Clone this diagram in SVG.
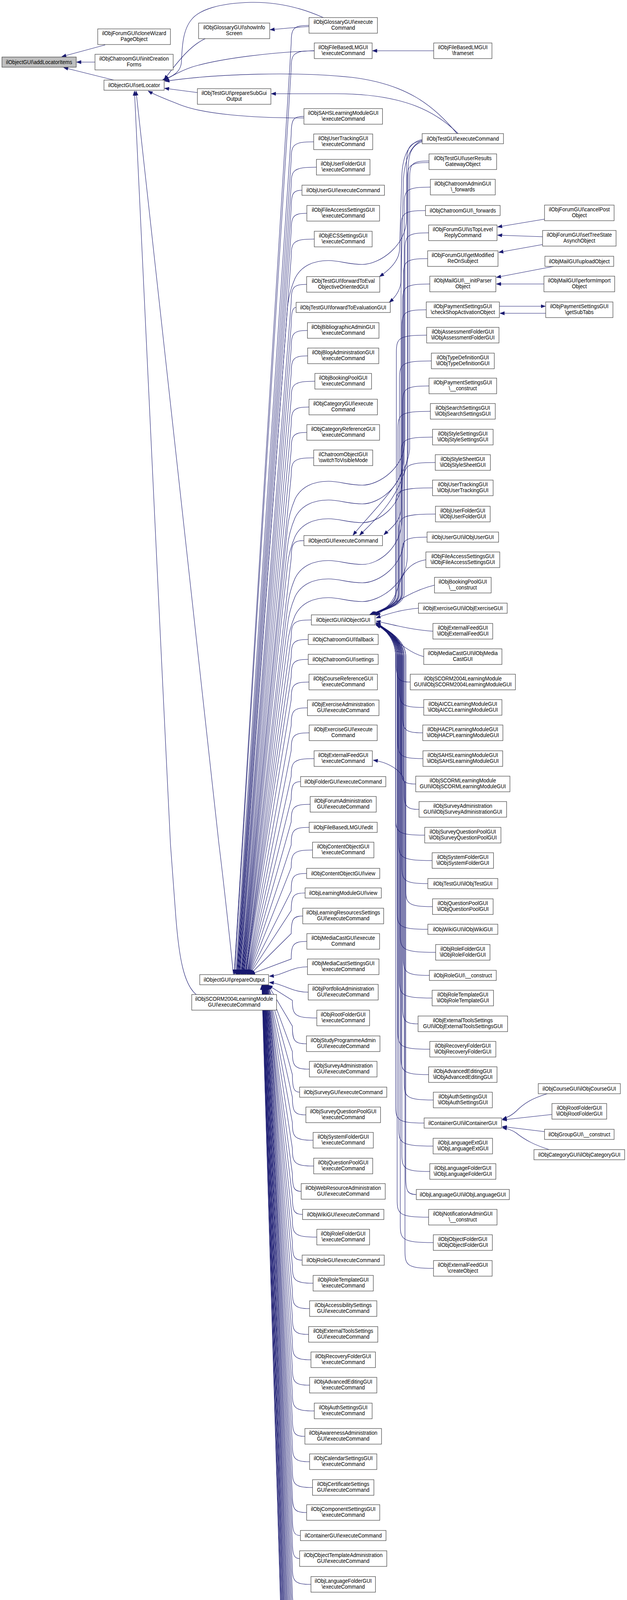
<svg xmlns="http://www.w3.org/2000/svg" width="1604" height="5192" viewBox="0 0 1604 5192">
<defs>
<marker id="ah" markerUnits="userSpaceOnUse" markerWidth="12" markerHeight="10" viewBox="0 0 12 10" refX="11.5" refY="5" orient="auto"><path d="M0,0.5 L12,5 L0,9.5 z" fill="#191970" stroke="#191970" stroke-width="0.5"/></marker>
<style>
.n rect{fill:#fff;stroke:#404040;stroke-width:1.2}
.root rect{fill:#bfbfbf}
.n text{font-family:"Liberation Sans",Arial,Helvetica,sans-serif;font-size:15px;text-anchor:middle;fill:#000;transform-box:fill-box;transform-origin:center;transform:scaleX(0.88)}
.e{fill:none;stroke:#191970;stroke-width:1.1;marker-end:url(#ah)}
</style>
</defs>
<rect width="1604" height="5192" fill="#fff"/>
<g id="edges">
<path class="e" d="M269,115 L158,145"/>
<path class="e" d="M243,159 L196,159"/>
<path class="e" d="M291,205 L163,173"/>
<path class="e" d="M525,99 C490,115 460,150 420,204"/>
<path class="e" d="M790.5,68 C750,70 720,74 691,76"/>
<path class="e" d="M827,45 C760,15 700,5 642,6 C560,8 510,25 490,50 C465,80 466,130 464,160 C462,185 440,197 414,206"/>
<path class="e" d="M804,130 C700,133 560,150 490,172 C460,182 440,195 420,205"/>
<path class="e" d="M1169,342 C1110,270 1040,215 900,198 C760,183 560,188 422,208"/>
<path class="e" d="M1172,342 C1120,290 1040,240 860,240 L694,240"/>
<path class="e" d="M505,237 L421,226"/>
<path class="e" d="M777.5,302 C640,302 520,292 460,268 C430,256 400,245 379,233"/>
<path class="e" d="M597,2495 C590,2420 570,2240 560,2160 C470,1390 390,650 348,233"/>
<path class="e" d="M502,2546 C470,2520 458,2450 450,2350 L436,2160 C405,1500 365,750 344,233"/>
<path class="e" d="M1109.5,130 L953,130"/>
<path class="e" d="M1080,357 C1045,365 1030,400 1028,450 L1022,640 C1020,670 995,692 971,708"/>
<path class="e" d="M1080,359 C1050,372 1035,410 1032,460 L1026,720 C1024,745 1010,762 996,774"/>
<path class="e" d="M1080,361 C1045,364 1040,384 1040,420 L1040,560 C1040,630 970,677 927,677 C890,677 870,667 840,667 C800,667 770,682 755,712 C745,735 738,760 735,790 L610,2494"/>
<path class="e" d="M1096.5,596 C1041,596 1036,604 1036,641 L1036,1127 C1036,1197 970,1242 927,1242 C890,1242 870,1232 840,1232 C800,1232 770,1247 755,1277 C745,1300 738,1325 735,1355 L620,2494"/>
<path class="e" d="M1094,662 C1037,662 1032,670 1032,707 L1032,1175 C1032,1245 970,1290 927,1290 C890,1290 870,1280 840,1280 C800,1280 770,1295 755,1325 C745,1348 738,1373 735,1403 L621,2494"/>
<path class="e" d="M1099.5,727 C1035,727 1030,735 1030,772 L1030,1223 C1030,1293 970,1338 927,1338 C890,1338 870,1328 840,1328 C800,1328 770,1343 755,1373 C745,1396 738,1421 735,1451 L622,2494"/>
<path class="e" d="M1090.5,793 C1033,793 1028,801 1028,838 L1028,1330 C1028,1400 970,1445 927,1445 C890,1445 870,1435 840,1435 C800,1435 770,1450 755,1480 C745,1503 738,1528 735,1558 L624,2494"/>
<path class="e" d="M1101,479 C1039,479 1034,487 1034,524 L1034,1377 C1034,1447 970,1492 927,1492 C890,1492 870,1482 840,1482 C800,1482 770,1497 755,1527 C745,1550 738,1575 735,1605 L625,2494"/>
<path class="e" d="M1097.5,416 C1047,416 1042,424 1042,461 L1042,1425 C1042,1495 970,1540 927,1540 C890,1540 870,1530 840,1530 C800,1530 770,1545 755,1575 C745,1598 738,1623 735,1653 L627,2494"/>
<path class="e" d="M1097.5,412 C1053,412 1048,420 1048,457 L1048,1150 C1040,1230 960,1300 903,1370"/>
<path class="e" d="M1080,363 C1050,372 1044,400 1044,440 L1044,1150 C1040,1260 960,1330 920,1370"/>
<path class="e" d="M1088.5,539 C1031,539 1026,547 1026,584 L1026,1300 C1026,1335 1000,1352 982,1369"/>
<path class="e" d="M1393,561 L1273,581"/>
<path class="e" d="M1388,606 L1273,602"/>
<path class="e" d="M1388,626 L1276,646"/>
<path class="e" d="M1416,682 L1270,710"/>
<path class="e" d="M1391.5,727 L1270,727"/>
<path class="e" d="M1277.5,784 L1395,784"/>
<path class="e" d="M1396,802 L1279,802"/>
<path class="e" d="M1400,2800 C1360,2812 1340,2825 1320,2845 C1310,2855 1300,2860 1285,2865"/>
<path class="e" d="M1412,2853 L1285,2867"/>
<path class="e" d="M1393,2897 L1285,2884"/>
<path class="e" d="M1405,2943 C1370,2932 1345,2920 1320,2900 C1310,2893 1298,2889 1285,2887"/>
<path class="e" d="M1108,4905 L955,4905"/>
<path class="e" d="M1109,3247 C1041,3247 1036,3239 1036,3202 L1036,2010 C1036,1975 995,1952 955,1946"/>
<path class="e" d="M1091.5,858 C1019,858 1014,866 1014,903 L1014,1520 C1014,1550 975,1562 946,1574"/>
<path class="e" d="M1103.5,924 C1027,924 1022,932 1022,969 L1022,1520 C1022,1550 977,1562 948,1574"/>
<path class="e" d="M1097.5,988 C1035,988 1030,996 1030,1033 L1030,1520 C1030,1550 979,1562 950,1574"/>
<path class="e" d="M1101,1053 C1023,1053 1018,1061 1018,1098 L1018,1520 C1018,1550 976,1562 947,1574"/>
<path class="e" d="M1106.5,1119 C1031,1119 1026,1127 1026,1164 L1026,1520 C1026,1550 978,1562 949,1574"/>
<path class="e" d="M1113.5,1184 C1039,1184 1034,1192 1034,1229 L1034,1520 C1034,1550 980,1562 952,1574"/>
<path class="e" d="M1106.5,1249 C1017,1249 1012,1257 1012,1294 L1012,1520 C1012,1550 975,1562 945,1574"/>
<path class="e" d="M1114,1316 C1025,1316 1020,1324 1020,1361 L1020,1520 C1020,1550 977,1562 948,1574"/>
<path class="e" d="M1092.5,1375 C1033,1375 1028,1383 1028,1420 L1028,1520 C1028,1550 979,1562 951,1574"/>
<path class="e" d="M1089.5,1433 C1045,1440 1028,1470 1016,1510 C1005,1545 985,1562 956,1574"/>
<path class="e" d="M1111.5,1498 C1060,1510 1010,1540 962,1576"/>
<path class="e" d="M1070.5,1557 C1030,1560 995,1570 962,1582"/>
<path class="e" d="M1107.5,1616 C1050,1612 1000,1598 962,1590"/>
<path class="e" d="M1084,1681 C1040,1670 1005,1630 962,1596"/>
<path class="e" d="M1049.5,1746 C1019,1746 1014,1738 1014,1701 L1014,1680 C1014,1640 990,1612 962,1594"/>
<path class="e" d="M1084,1811 C1027,1811 1022,1803 1022,1766 L1022,1680 C1022,1640 990,1612 962,1596"/>
<path class="e" d="M1081.5,1876 C1035,1876 1030,1868 1030,1831 L1030,1680 C1030,1640 992,1612 962,1598"/>
<path class="e" d="M1082,1942 C1023,1942 1018,1934 1018,1897 L1018,1680 C1018,1640 990,1612 962,1600"/>
<path class="e" d="M1063.5,2007 C1031,2007 1026,1999 1026,1962 L1026,1680 C1026,1640 991,1612 962,1594"/>
<path class="e" d="M1072,2072 C1039,2072 1034,2064 1034,2027 L1034,1680 C1034,1640 992,1612 962,1596"/>
<path class="e" d="M1086.5,2138 C1017,2138 1012,2130 1012,2093 L1012,1680 C1012,1640 989,1612 962,1598"/>
<path class="e" d="M1105.5,2203 C1025,2203 1020,2195 1020,2158 L1020,1680 C1020,1640 990,1612 962,1600"/>
<path class="e" d="M1094.5,2262 C1033,2262 1028,2254 1028,2217 L1028,1680 C1028,1640 991,1612 962,1594"/>
<path class="e" d="M1106.5,2321 C1043,2321 1038,2313 1038,2276 L1038,1680 C1038,1640 993,1612 962,1596"/>
<path class="e" d="M1094.5,2379 C1021,2379 1016,2371 1016,2334 L1016,1680 C1016,1640 989,1612 962,1598"/>
<path class="e" d="M1114.5,2438 C1029,2438 1024,2430 1024,2393 L1024,1680 C1024,1640 990,1612 962,1600"/>
<path class="e" d="M1098.5,2497 C1037,2497 1032,2489 1032,2452 L1032,1680 C1032,1640 992,1612 962,1594"/>
<path class="e" d="M1105.5,2555 C1027,2555 1022,2547 1022,2510 L1022,1680 C1022,1640 990,1612 962,1596"/>
<path class="e" d="M1069.5,2621 C1035,2621 1030,2613 1030,2576 L1030,1680 C1030,1640 991,1612 962,1598"/>
<path class="e" d="M1099.5,2686 C1023,2686 1018,2678 1018,2641 L1018,1680 C1018,1640 990,1612 962,1600"/>
<path class="e" d="M1096.5,2751 C1031,2751 1026,2743 1026,2706 L1026,1680 C1026,1640 991,1612 962,1594"/>
<path class="e" d="M1108.5,2816 C1039,2816 1034,2808 1034,2771 L1034,1680 C1034,1640 992,1612 962,1596"/>
<path class="e" d="M1085,2875 C1017,2875 1012,2867 1012,2830 L1012,1680 C1012,1640 989,1612 962,1598"/>
<path class="e" d="M1108,2934 C1025,2934 1020,2926 1020,2889 L1020,1680 C1020,1640 990,1612 962,1600"/>
<path class="e" d="M1099.5,2999 C1033,2999 1028,2991 1028,2954 L1028,1680 C1028,1640 991,1612 962,1594"/>
<path class="e" d="M1065,3058 C1043,3058 1038,3050 1038,3013 L1038,1680 C1038,1640 993,1612 962,1596"/>
<path class="e" d="M1096.5,3116 C1021,3116 1016,3108 1016,3071 L1016,1680 C1016,1640 989,1612 962,1598"/>
<path class="e" d="M1108.5,3181 C1029,3181 1024,3173 1024,3136 L1024,1680 C1024,1640 990,1612 962,1600"/>
<path class="e" d="M790.5,65 C750,65 745,73 745,110 L599,2494"/>
<path class="e" d="M804,130 C750,130 745,138 745,175 L600,2494"/>
<path class="e" d="M777.5,298 C750,298 745,306 745,343 L603,2494"/>
<path class="e" d="M802.5,363 C750,363 745,371 745,408 L605,2494"/>
<path class="e" d="M809.5,428 C750,428 745,436 745,473 L606,2494"/>
<path class="e" d="M772.5,487 C750,487 745,495 745,532 L607,2494"/>
<path class="e" d="M785,546 C750,546 745,554 745,591 L608,2494"/>
<path class="e" d="M804,612 C750,612 745,620 745,657 L609,2494"/>
<path class="e" d="M784.5,728 C750,728 745,736 745,773 L611,2494"/>
<path class="e" d="M757.5,787 C750,787 745,795 745,832 L612,2494"/>
<path class="e" d="M786.5,846 C750,846 745,854 745,891 L613,2494"/>
<path class="e" d="M787,911 C750,911 745,919 745,956 L614,2494"/>
<path class="e" d="M805.5,976 C750,976 745,984 745,1021 L616,2494"/>
<path class="e" d="M790.5,1042 C750,1042 745,1050 745,1087 L617,2494"/>
<path class="e" d="M785,1107 C750,1107 745,1115 745,1152 L618,2494"/>
<path class="e" d="M802.5,1172 C750,1172 745,1180 745,1217 L619,2494"/>
<path class="e" d="M777.5,1384 C750,1384 745,1392 745,1429 L623,2494"/>
<path class="e" d="M796.5,1587 C750,1587 745,1595 745,1632 L627,2494"/>
<path class="e" d="M788.5,1637 C750,1637 745,1645 745,1682 L628,2494"/>
<path class="e" d="M788.5,1688 C750,1688 745,1696 745,1733 L628,2494"/>
<path class="e" d="M790.5,1746 C750,1746 745,1754 745,1791 L629,2494"/>
<path class="e" d="M786.5,1812 C750,1812 745,1820 745,1857 L631,2494"/>
<path class="e" d="M791,1876 C750,1876 745,1884 745,1921 L632,2494"/>
<path class="e" d="M803.5,1942 C750,1942 745,1950 745,1987 L633,2494"/>
<path class="e" d="M769,2001 C750,2001 745,2009 745,2046 L634,2494"/>
<path class="e" d="M793.5,2059 C750,2059 745,2067 745,2104 L635,2494"/>
<path class="e" d="M791,2118 C750,2118 745,2126 745,2163 L636,2494"/>
<path class="e" d="M799.5,2176 C750,2176 745,2184 745,2221 L637,2494"/>
<path class="e" d="M784.5,2236 C750,2236 745,2244 745,2281 L638,2494"/>
<path class="e" d="M780.5,2286 C750,2286 745,2294 745,2331 L639,2494"/>
<path class="e" d="M774.5,2345 C750,2345 745,2353 745,2390 L640,2494"/>
<path class="e" d="M785,2410 C750,2410 745,2418 745,2455 L641,2494"/>
<path class="e" d="M786.5,2475 C745,2475 725,2497 689,2499"/>
<path class="e" d="M788.5,2540 C745,2540 725,2518 689,2515"/>
<path class="e" d="M810.5,2606 C753,2606 748,2598 748,2561 L686,2522"/>
<path class="e" d="M784,2672 C753,2672 748,2664 748,2627 L686,2522"/>
<path class="e" d="M791.5,2737 C753,2737 748,2729 748,2692 L685,2522"/>
<path class="e" d="M766.5,2796 C753,2796 748,2788 748,2751 L685,2522"/>
<path class="e" d="M782.5,2854 C753,2854 748,2846 748,2809 L684,2522"/>
<path class="e" d="M801,2919 C753,2919 748,2911 748,2874 L684,2522"/>
<path class="e" d="M802.5,2985 C753,2985 748,2977 748,2940 L684,2522"/>
<path class="e" d="M770.5,3050 C753,3050 748,3042 748,3005 L683,2522"/>
<path class="e" d="M774,3109 C753,3109 748,3101 748,3064 L683,2522"/>
<path class="e" d="M810.5,3167 C753,3167 748,3159 748,3122 L682,2522"/>
<path class="e" d="M773,3226 C753,3226 748,3218 748,3181 L682,2522"/>
<path class="e" d="M801,3285 C753,3285 748,3277 748,3240 L682,2522"/>
<path class="e" d="M792,3350 C753,3350 748,3342 748,3305 L681,2522"/>
<path class="e" d="M789.5,3416 C753,3416 748,3408 748,3371 L681,2522"/>
<path class="e" d="M795.5,3481 C753,3481 748,3473 748,3436 L681,2522"/>
<path class="e" d="M792,3546 C753,3546 748,3538 748,3501 L680,2522"/>
<path class="e" d="M804,3612 C753,3612 748,3604 748,3567 L680,2522"/>
<path class="e" d="M780,3677 C753,3677 748,3669 748,3632 L679,2522"/>
<path class="e" d="M792,3742 C753,3742 748,3734 748,3697 L679,2522"/>
<path class="e" d="M799.5,3808 C753,3808 748,3800 748,3763 L678,2522"/>
<path class="e" d="M784.5,3872 C753,3872 748,3864 748,3827 L678,2522"/>
<path class="e" d="M768.5,3931 C753,3931 748,3923 748,3886 L678,2522"/>
<path class="e" d="M766.5,3990 C753,3990 748,3982 748,3945 L677,2522"/>
<path class="e" d="M795.5,4056 C753,4056 748,4048 748,4011 L677,2522"/>
<path class="e" d="M795,4121 C753,4121 748,4113 748,4076 L676,2522"/>
<path class="e" d="M789.5,4186 C753,4186 748,4178 748,4141 L676,2522"/>
<path class="e" d="M786.5,4251 C753,4251 748,4243 748,4206 L676,2522"/>
<path class="e" d="M807,4316 C753,4316 748,4308 748,4271 L675,2522"/>
<path class="e" d="M800.5,4382 C753,4382 748,4374 748,4337 L675,2522"/>
<path class="e" d="M790.5,4448 C753,4448 748,4440 748,4403 L674,2522"/>
<path class="e" d="M804.5,4513 C753,4513 748,4505 748,4468 L674,2522"/>
<path class="e" d="M780,4578 C753,4578 748,4570 748,4533 L674,2522"/>
<path class="e" d="M795.5,4644 C753,4644 748,4636 748,4599 L673,2522"/>
<path class="e" d="M786.5,4709 C753,4709 748,4701 748,4664 L673,2522"/>
<path class="e" d="M797,4774 C753,4774 748,4766 748,4729 L672,2522"/>
<path class="e" d="M792,4839 C753,4839 748,4831 748,4794 L672,2522"/>
<path class="e" d="M802.5,4904 C753,4904 748,4896 748,4859 L672,2522"/>
<path class="e" d="M809.5,4970 C753,4970 748,4962 748,4925 L671,2522"/>
<path class="e" d="M800.5,5036 C753,5036 748,5028 748,4991 L671,2522"/>
<path class="e" d="M794.5,5101 C753,5101 748,5093 748,5056 L670,2522"/>
<path class="e" d="M782,5166 C753,5166 748,5158 748,5121 L670,2522"/>
</g>
<g id="n_root" class="n root"><rect x="5" y="146" width="190" height="26"/><text x="100" y="164">ilObjectGUI\addLocatorItems</text></g>
<g id="n_cloneWizard" class="n"><rect x="250" y="74" width="186" height="40"/><text><tspan x="343" y="90">ilObjForumGUI\cloneWizard</tspan><tspan x="343" y="105">PageObject</tspan></text></g>
<g id="n_initCreationForms" class="n"><rect x="243" y="139" width="200" height="40"/><text><tspan x="343" y="155">ilObjChatroomGUI\initCreation</tspan><tspan x="343" y="170">Forms</tspan></text></g>
<g id="n_setLocator" class="n"><rect x="266" y="205" width="154" height="26"/><text x="343" y="223">ilObjectGUI\setLocator</text></g>
<g id="n_showInfoScreen" class="n"><rect x="508" y="59" width="182" height="40"/><text><tspan x="599" y="75">ilObjGlossaryGUI\showInfo</tspan><tspan x="599" y="90">Screen</tspan></text></g>
<g id="n_prepareSubGuiOutput" class="n"><rect x="505" y="227" width="188" height="40"/><text><tspan x="599" y="243">ilObjTestGUI\prepareSubGui</tspan><tspan x="599" y="258">Output</tspan></text></g>
<g id="n_prepareOutput" class="n"><rect x="511" y="2495" width="176" height="26"/><text x="599" y="2513">ilObjectGUI\prepareOutput</text></g>
<g id="n_scorm2004_exec" class="n"><rect x="490.5" y="2546" width="217" height="40"/><text><tspan x="599" y="2562">ilObjSCORM2004LearningModule</tspan><tspan x="599" y="2577">GUI\executeCommand</tspan></text></g>
<g id="c4_01" class="n"><rect x="790.5" y="45" width="175" height="40"/><text><tspan x="878" y="61">ilObjGlossaryGUI\execute</tspan><tspan x="878" y="76">Command</tspan></text></g>
<g id="c4_02" class="n"><rect x="804" y="110" width="148" height="40"/><text><tspan x="878" y="126">ilObjFileBasedLMGUI</tspan><tspan x="878" y="141">\executeCommand</tspan></text></g>
<g id="c4_03" class="n"><rect x="777.5" y="278" width="201" height="40"/><text><tspan x="878" y="294">ilObjSAHSLearningModuleGUI</tspan><tspan x="878" y="309">\executeCommand</tspan></text></g>
<g id="c4_04" class="n"><rect x="802.5" y="343" width="151" height="40"/><text><tspan x="878" y="359">ilObjUserTrackingGUI</tspan><tspan x="878" y="374">\executeCommand</tspan></text></g>
<g id="c4_05" class="n"><rect x="809.5" y="408" width="137" height="40"/><text><tspan x="878" y="424">ilObjUserFolderGUI</tspan><tspan x="878" y="439">\executeCommand</tspan></text></g>
<g id="c4_06" class="n"><rect x="772.5" y="474" width="211" height="26"/><text x="878" y="492">ilObjUserGUI\executeCommand</text></g>
<g id="c4_07" class="n"><rect x="785" y="526" width="186" height="40"/><text><tspan x="878" y="542">ilObjFileAccessSettingsGUI</tspan><tspan x="878" y="557">\executeCommand</tspan></text></g>
<g id="c4_08" class="n"><rect x="804" y="592" width="148" height="40"/><text><tspan x="878" y="608">ilObjECSSettingsGUI</tspan><tspan x="878" y="623">\executeCommand</tspan></text></g>
<g id="c4_09" class="n"><rect x="784.5" y="708" width="187" height="40"/><text><tspan x="878" y="724">ilObjTestGUI\forwardToEval</tspan><tspan x="878" y="739">ObjectiveOrientedGUI</tspan></text></g>
<g id="c4_10" class="n"><rect x="757.5" y="774" width="241" height="26"/><text x="878" y="792">ilObjTestGUI\forwardToEvaluationGUI</text></g>
<g id="c4_11" class="n"><rect x="786.5" y="826" width="183" height="40"/><text><tspan x="878" y="842">ilObjBibliographicAdminGUI</tspan><tspan x="878" y="857">\executeCommand</tspan></text></g>
<g id="c4_12" class="n"><rect x="787" y="891" width="182" height="40"/><text><tspan x="878" y="907">ilObjBlogAdministrationGUI</tspan><tspan x="878" y="922">\executeCommand</tspan></text></g>
<g id="c4_13" class="n"><rect x="805.5" y="956" width="145" height="40"/><text><tspan x="878" y="972">ilObjBookingPoolGUI</tspan><tspan x="878" y="987">\executeCommand</tspan></text></g>
<g id="c4_14" class="n"><rect x="790.5" y="1022" width="175" height="40"/><text><tspan x="878" y="1038">ilObjCategoryGUI\execute</tspan><tspan x="878" y="1053">Command</tspan></text></g>
<g id="c4_15" class="n"><rect x="785" y="1087" width="186" height="40"/><text><tspan x="878" y="1103">ilObjCategoryReferenceGUI</tspan><tspan x="878" y="1118">\executeCommand</tspan></text></g>
<g id="c4_16" class="n"><rect x="802.5" y="1152" width="151" height="40"/><text><tspan x="878" y="1168">ilChatroomObjectGUI</tspan><tspan x="878" y="1183">\switchToVisibleMode</tspan></text></g>
<g id="c4_17" class="n"><rect x="777.5" y="1371" width="201" height="26"/><text x="878" y="1389">ilObjectGUI\executeCommand</text></g>
<g id="c4_18" class="n"><rect x="796.5" y="1574" width="163" height="26"/><text x="878" y="1592">ilObjectGUI\ilObjectGUI</text></g>
<g id="c4_19" class="n"><rect x="788.5" y="1624" width="179" height="26"/><text x="878" y="1642">ilObjChatroomGUI\fallback</text></g>
<g id="c4_20" class="n"><rect x="788.5" y="1675" width="179" height="26"/><text x="878" y="1693">ilObjChatroomGUI\settings</text></g>
<g id="c4_21" class="n"><rect x="790.5" y="1726" width="175" height="40"/><text><tspan x="878" y="1742">ilObjCourseReferenceGUI</tspan><tspan x="878" y="1757">\executeCommand</tspan></text></g>
<g id="c4_22" class="n"><rect x="786.5" y="1792" width="183" height="40"/><text><tspan x="878" y="1808">ilObjExerciseAdministration</tspan><tspan x="878" y="1823">GUI\executeCommand</tspan></text></g>
<g id="c4_23" class="n"><rect x="791" y="1856" width="174" height="40"/><text><tspan x="878" y="1872">ilObjExerciseGUI\execute</tspan><tspan x="878" y="1887">Command</tspan></text></g>
<g id="c4_24" class="n"><rect x="803.5" y="1922" width="149" height="40"/><text><tspan x="878" y="1938">ilObjExternalFeedGUI</tspan><tspan x="878" y="1953">\executeCommand</tspan></text></g>
<g id="c4_25" class="n"><rect x="769" y="1988" width="218" height="26"/><text x="878" y="2006">ilObjFolderGUI\executeCommand</text></g>
<g id="c4_26" class="n"><rect x="793.5" y="2039" width="169" height="40"/><text><tspan x="878" y="2055">ilObjForumAdministration</tspan><tspan x="878" y="2070">GUI\executeCommand</tspan></text></g>
<g id="c4_27" class="n"><rect x="791" y="2105" width="174" height="26"/><text x="878" y="2123">ilObjFileBasedLMGUI\edit</text></g>
<g id="c4_28" class="n"><rect x="799.5" y="2156" width="157" height="40"/><text><tspan x="878" y="2172">ilObjContentObjectGUI</tspan><tspan x="878" y="2187">\executeCommand</tspan></text></g>
<g id="c4_29" class="n"><rect x="784.5" y="2223" width="187" height="26"/><text x="878" y="2241">ilObjContentObjectGUI\view</text></g>
<g id="c4_30" class="n"><rect x="780.5" y="2273" width="195" height="26"/><text x="878" y="2291">ilObjLearningModuleGUI\view</text></g>
<g id="c4_31" class="n"><rect x="774.5" y="2325" width="207" height="40"/><text><tspan x="878" y="2341">ilObjLearningResourcesSettings</tspan><tspan x="878" y="2356">GUI\executeCommand</tspan></text></g>
<g id="c4_32" class="n"><rect x="785" y="2390" width="186" height="40"/><text><tspan x="878" y="2406">ilObjMediaCastGUI\execute</tspan><tspan x="878" y="2421">Command</tspan></text></g>
<g id="c4_33" class="n"><rect x="786.5" y="2455" width="183" height="40"/><text><tspan x="878" y="2471">ilObjMediaCastSettingsGUI</tspan><tspan x="878" y="2486">\executeCommand</tspan></text></g>
<g id="c4_34" class="n"><rect x="788.5" y="2520" width="179" height="40"/><text><tspan x="878" y="2536">ilObjPortfolioAdministration</tspan><tspan x="878" y="2551">GUI\executeCommand</tspan></text></g>
<g id="c4_35" class="n"><rect x="810.5" y="2586" width="135" height="40"/><text><tspan x="878" y="2602">ilObjRootFolderGUI</tspan><tspan x="878" y="2617">\executeCommand</tspan></text></g>
<g id="c4_36" class="n"><rect x="784" y="2652" width="188" height="40"/><text><tspan x="878" y="2668">ilObjStudyProgrammeAdmin</tspan><tspan x="878" y="2683">GUI\executeCommand</tspan></text></g>
<g id="c4_37" class="n"><rect x="791.5" y="2717" width="173" height="40"/><text><tspan x="878" y="2733">ilObjSurveyAdministration</tspan><tspan x="878" y="2748">GUI\executeCommand</tspan></text></g>
<g id="c4_38" class="n"><rect x="766.5" y="2783" width="223" height="26"/><text x="878" y="2801">ilObjSurveyGUI\executeCommand</text></g>
<g id="c4_39" class="n"><rect x="782.5" y="2834" width="191" height="40"/><text><tspan x="878" y="2850">ilObjSurveyQuestionPoolGUI</tspan><tspan x="878" y="2865">\executeCommand</tspan></text></g>
<g id="c4_40" class="n"><rect x="801" y="2899" width="154" height="40"/><text><tspan x="878" y="2915">ilObjSystemFolderGUI</tspan><tspan x="878" y="2930">\executeCommand</tspan></text></g>
<g id="c4_41" class="n"><rect x="802.5" y="2965" width="151" height="40"/><text><tspan x="878" y="2981">ilObjQuestionPoolGUI</tspan><tspan x="878" y="2996">\executeCommand</tspan></text></g>
<g id="c4_42" class="n"><rect x="770.5" y="3030" width="215" height="40"/><text><tspan x="878" y="3046">ilObjWebResourceAdministration</tspan><tspan x="878" y="3061">GUI\executeCommand</tspan></text></g>
<g id="c4_43" class="n"><rect x="774" y="3096" width="208" height="26"/><text x="878" y="3114">ilObjWikiGUI\executeCommand</text></g>
<g id="c4_44" class="n"><rect x="810.5" y="3147" width="135" height="40"/><text><tspan x="878" y="3163">ilObjRoleFolderGUI</tspan><tspan x="878" y="3178">\executeCommand</tspan></text></g>
<g id="c4_45" class="n"><rect x="773" y="3213" width="210" height="26"/><text x="878" y="3231">ilObjRoleGUI\executeCommand</text></g>
<g id="c4_46" class="n"><rect x="801" y="3265" width="154" height="40"/><text><tspan x="878" y="3281">ilObjRoleTemplateGUI</tspan><tspan x="878" y="3296">\executeCommand</tspan></text></g>
<g id="c4_47" class="n"><rect x="792" y="3330" width="172" height="40"/><text><tspan x="878" y="3346">ilObjAccessibilitySettings</tspan><tspan x="878" y="3361">GUI\executeCommand</tspan></text></g>
<g id="c4_48" class="n"><rect x="789.5" y="3396" width="177" height="40"/><text><tspan x="878" y="3412">ilObjExternalToolsSettings</tspan><tspan x="878" y="3427">GUI\executeCommand</tspan></text></g>
<g id="c4_49" class="n"><rect x="795.5" y="3461" width="165" height="40"/><text><tspan x="878" y="3477">ilObjRecoveryFolderGUI</tspan><tspan x="878" y="3492">\executeCommand</tspan></text></g>
<g id="c4_50" class="n"><rect x="792" y="3526" width="172" height="40"/><text><tspan x="878" y="3542">ilObjAdvancedEditingGUI</tspan><tspan x="878" y="3557">\executeCommand</tspan></text></g>
<g id="c4_51" class="n"><rect x="804" y="3592" width="148" height="40"/><text><tspan x="878" y="3608">ilObjAuthSettingsGUI</tspan><tspan x="878" y="3623">\executeCommand</tspan></text></g>
<g id="c4_52" class="n"><rect x="780" y="3657" width="196" height="40"/><text><tspan x="878" y="3673">ilObjAwarenessAdministration</tspan><tspan x="878" y="3688">GUI\executeCommand</tspan></text></g>
<g id="c4_53" class="n"><rect x="792" y="3722" width="172" height="40"/><text><tspan x="878" y="3738">ilObjCalendarSettingsGUI</tspan><tspan x="878" y="3753">\executeCommand</tspan></text></g>
<g id="c4_54" class="n"><rect x="799.5" y="3788" width="157" height="40"/><text><tspan x="878" y="3804">ilObjCertificateSettings</tspan><tspan x="878" y="3819">GUI\executeCommand</tspan></text></g>
<g id="c4_55" class="n"><rect x="784.5" y="3852" width="187" height="40"/><text><tspan x="878" y="3868">ilObjComponentSettingsGUI</tspan><tspan x="878" y="3883">\executeCommand</tspan></text></g>
<g id="c4_56" class="n"><rect x="768.5" y="3918" width="219" height="26"/><text x="878" y="3936">ilContainerGUI\executeCommand</text></g>
<g id="c4_57" class="n"><rect x="766.5" y="3970" width="223" height="40"/><text><tspan x="878" y="3986">ilObjObjectTemplateAdministration</tspan><tspan x="878" y="4001">GUI\executeCommand</tspan></text></g>
<g id="c4_58" class="n"><rect x="795.5" y="4036" width="165" height="40"/><text><tspan x="878" y="4052">ilObjLanguageFolderGUI</tspan><tspan x="878" y="4067">\executeCommand</tspan></text></g>
<g id="c4_59" class="n"><rect x="795" y="4101" width="166" height="40"/><text><tspan x="878" y="4117">ilObjLoggingSettingsGUI</tspan><tspan x="878" y="4132">\executeCommand</tspan></text></g>
<g id="c4_60" class="n"><rect x="789.5" y="4166" width="177" height="40"/><text><tspan x="878" y="4182">ilObjMediaObjectsSettings</tspan><tspan x="878" y="4197">GUI\executeCommand</tspan></text></g>
<g id="c4_61" class="n"><rect x="786.5" y="4231" width="183" height="40"/><text><tspan x="878" y="4247">ilMembershipAdministration</tspan><tspan x="878" y="4262">GUI\executeCommand</tspan></text></g>
<g id="c4_62" class="n"><rect x="807" y="4296" width="142" height="40"/><text><tspan x="878" y="4312">ilObjMDSettingsGUI</tspan><tspan x="878" y="4327">\executeCommand</tspan></text></g>
<g id="c4_63" class="n"><rect x="800.5" y="4362" width="155" height="40"/><text><tspan x="878" y="4378">ilObjNewsSettingsGUI</tspan><tspan x="878" y="4393">\executeCommand</tspan></text></g>
<g id="c4_64" class="n"><rect x="790.5" y="4428" width="175" height="40"/><text><tspan x="878" y="4444">ilObjNotificationAdminGUI</tspan><tspan x="878" y="4459">\executeCommand</tspan></text></g>
<g id="c4_65" class="n"><rect x="804.5" y="4493" width="147" height="40"/><text><tspan x="878" y="4509">ilObjObjectFolderGUI</tspan><tspan x="878" y="4524">\executeCommand</tspan></text></g>
<g id="c4_66" class="n"><rect x="780" y="4558" width="196" height="40"/><text><tspan x="878" y="4574">ilObjPersonalDesktopSettings</tspan><tspan x="878" y="4589">GUI\executeCommand</tspan></text></g>
<g id="c4_67" class="n"><rect x="795.5" y="4624" width="165" height="40"/><text><tspan x="878" y="4640">ilObjPrivacySecurityGUI</tspan><tspan x="878" y="4655">\executeCommand</tspan></text></g>
<g id="c4_68" class="n"><rect x="786.5" y="4689" width="183" height="40"/><text><tspan x="878" y="4705">ilObjRepositorySettingsGUI</tspan><tspan x="878" y="4720">\executeCommand</tspan></text></g>
<g id="c4_69" class="n"><rect x="797" y="4754" width="162" height="40"/><text><tspan x="878" y="4770">ilObjSearchSettingsGUI</tspan><tspan x="878" y="4785">\executeCommand</tspan></text></g>
<g id="c4_70" class="n"><rect x="792" y="4819" width="172" height="40"/><text><tspan x="878" y="4835">ilObjSkillManagementGUI</tspan><tspan x="878" y="4850">\executeCommand</tspan></text></g>
<g id="c4_71" class="n"><rect x="802.5" y="4884" width="151" height="40"/><text><tspan x="878" y="4900">ilObjStyleSettingsGUI</tspan><tspan x="878" y="4915">\executeCommand</tspan></text></g>
<g id="c4_72" class="n"><rect x="809.5" y="4950" width="137" height="40"/><text><tspan x="878" y="4966">ilObjStyleSheetGUI</tspan><tspan x="878" y="4981">\executeCommand</tspan></text></g>
<g id="c4_73" class="n"><rect x="800.5" y="5016" width="155" height="40"/><text><tspan x="878" y="5032">ilObjSystemCheckGUI</tspan><tspan x="878" y="5047">\executeCommand</tspan></text></g>
<g id="c4_74" class="n"><rect x="794.5" y="5081" width="167" height="40"/><text><tspan x="878" y="5097">ilObjTaggingSettingsGUI</tspan><tspan x="878" y="5112">\executeCommand</tspan></text></g>
<g id="c4_75" class="n"><rect x="782" y="5146" width="192" height="40"/><text><tspan x="878" y="5162">ilObjTaxonomyAdministration</tspan><tspan x="878" y="5177">GUI\executeCommand</tspan></text></g>
<g id="c5_frameset" class="n"><rect x="1109.5" y="110" width="149" height="40"/><text><tspan x="1184" y="126">ilObjFileBasedLMGUI</tspan><tspan x="1184" y="141">\frameset</tspan></text></g>
<g id="c5_test_exec" class="n"><rect x="1080" y="342" width="208" height="26"/><text x="1184" y="360">ilObjTestGUI\executeCommand</text></g>
<g id="c5_userResults" class="n"><rect x="1097.5" y="394" width="173" height="40"/><text><tspan x="1184" y="410">ilObjTestGUI\userResults</tspan><tspan x="1184" y="425">GatewayObject</tspan></text></g>
<g id="c5_chatadmin_fwd" class="n"><rect x="1101" y="459" width="166" height="40"/><text><tspan x="1184" y="475">ilObjChatroomAdminGUI</tspan><tspan x="1184" y="490">\_forwards</tspan></text></g>
<g id="c5_chat_fwd" class="n"><rect x="1088.5" y="526" width="191" height="26"/><text x="1184" y="544">ilObjChatroomGUI\_forwards</text></g>
<g id="c5_isTopLevel" class="n"><rect x="1096.5" y="576" width="175" height="40"/><text><tspan x="1184" y="592">ilObjForumGUI\isTopLevel</tspan><tspan x="1184" y="607">ReplyCommand</tspan></text></g>
<g id="c5_getModified" class="n"><rect x="1094" y="642" width="180" height="40"/><text><tspan x="1184" y="658">ilObjForumGUI\getModified</tspan><tspan x="1184" y="673">ReOnSubject</tspan></text></g>
<g id="c5_initParser" class="n"><rect x="1099.5" y="707" width="169" height="40"/><text><tspan x="1184" y="723">ilObjMailGUI\__initParser</tspan><tspan x="1184" y="738">Object</tspan></text></g>
<g id="c5_checkShop" class="n"><rect x="1090.5" y="773" width="187" height="40"/><text><tspan x="1184" y="789">ilObjPaymentSettingsGUI</tspan><tspan x="1184" y="804">\checkShopActivationObject</tspan></text></g>
<g id="c5_assessment" class="n"><rect x="1091.5" y="838" width="185" height="40"/><text><tspan x="1184" y="854">ilObjAssessmentFolderGUI</tspan><tspan x="1184" y="869">\ilObjAssessmentFolderGUI</tspan></text></g>
<g id="c5_typedef" class="n"><rect x="1103.5" y="904" width="161" height="40"/><text><tspan x="1184" y="920">ilObjTypeDefinitionGUI</tspan><tspan x="1184" y="935">\ilObjTypeDefinitionGUI</tspan></text></g>
<g id="c5_payment_construct" class="n"><rect x="1097.5" y="968" width="173" height="40"/><text><tspan x="1184" y="984">ilObjPaymentSettingsGUI</tspan><tspan x="1184" y="999">\__construct</tspan></text></g>
<g id="c5_search" class="n"><rect x="1101" y="1033" width="166" height="40"/><text><tspan x="1184" y="1049">ilObjSearchSettingsGUI</tspan><tspan x="1184" y="1064">\ilObjSearchSettingsGUI</tspan></text></g>
<g id="c5_stylesettings" class="n"><rect x="1106.5" y="1099" width="155" height="40"/><text><tspan x="1184" y="1115">ilObjStyleSettingsGUI</tspan><tspan x="1184" y="1130">\ilObjStyleSettingsGUI</tspan></text></g>
<g id="c5_stylesheet" class="n"><rect x="1113.5" y="1164" width="141" height="40"/><text><tspan x="1184" y="1180">ilObjStyleSheetGUI</tspan><tspan x="1184" y="1195">\ilObjStyleSheetGUI</tspan></text></g>
<g id="c5_usertracking" class="n"><rect x="1106.5" y="1229" width="155" height="40"/><text><tspan x="1184" y="1245">ilObjUserTrackingGUI</tspan><tspan x="1184" y="1260">\ilObjUserTrackingGUI</tspan></text></g>
<g id="c5_userfolder" class="n"><rect x="1114" y="1296" width="140" height="40"/><text><tspan x="1184" y="1312">ilObjUserFolderGUI</tspan><tspan x="1184" y="1327">\ilObjUserFolderGUI</tspan></text></g>
<g id="c5_user" class="n"><rect x="1092.5" y="1362" width="183" height="26"/><text x="1184" y="1380">ilObjUserGUI\ilObjUserGUI</text></g>
<g id="c5_fileaccess" class="n"><rect x="1089.5" y="1413" width="189" height="40"/><text><tspan x="1184" y="1429">ilObjFileAccessSettingsGUI</tspan><tspan x="1184" y="1444">\ilObjFileAccessSettingsGUI</tspan></text></g>
<g id="c5_bookingpool" class="n"><rect x="1111.5" y="1478" width="145" height="40"/><text><tspan x="1184" y="1494">ilObjBookingPoolGUI</tspan><tspan x="1184" y="1509">\__construct</tspan></text></g>
<g id="c5_exercise" class="n"><rect x="1070.5" y="1544" width="227" height="26"/><text x="1184" y="1562">ilObjExerciseGUI\ilObjExerciseGUI</text></g>
<g id="c5_externalfeed" class="n"><rect x="1107.5" y="1596" width="153" height="40"/><text><tspan x="1184" y="1612">ilObjExternalFeedGUI</tspan><tspan x="1184" y="1627">\ilObjExternalFeedGUI</tspan></text></g>
<g id="c5_mediacast" class="n"><rect x="1084" y="1661" width="200" height="40"/><text><tspan x="1184" y="1677">ilObjMediaCastGUI\ilObjMedia</tspan><tspan x="1184" y="1692">CastGUI</tspan></text></g>
<g id="c5_scorm2004" class="n"><rect x="1049.5" y="1726" width="269" height="40"/><text><tspan x="1184" y="1742">ilObjSCORM2004LearningModule</tspan><tspan x="1184" y="1757">GUI\ilObjSCORM2004LearningModuleGUI</tspan></text></g>
<g id="c5_aicc" class="n"><rect x="1084" y="1791" width="200" height="40"/><text><tspan x="1184" y="1807">ilObjAICCLearningModuleGUI</tspan><tspan x="1184" y="1822">\ilObjAICCLearningModuleGUI</tspan></text></g>
<g id="c5_hacp" class="n"><rect x="1081.5" y="1856" width="205" height="40"/><text><tspan x="1184" y="1872">ilObjHACPLearningModuleGUI</tspan><tspan x="1184" y="1887">\ilObjHACPLearningModuleGUI</tspan></text></g>
<g id="c5_sahs" class="n"><rect x="1082" y="1922" width="204" height="40"/><text><tspan x="1184" y="1938">ilObjSAHSLearningModuleGUI</tspan><tspan x="1184" y="1953">\ilObjSAHSLearningModuleGUI</tspan></text></g>
<g id="c5_scorm" class="n"><rect x="1063.5" y="1987" width="241" height="40"/><text><tspan x="1184" y="2003">ilObjSCORMLearningModule</tspan><tspan x="1184" y="2018">GUI\ilObjSCORMLearningModuleGUI</tspan></text></g>
<g id="c5_surveyadmin" class="n"><rect x="1072" y="2052" width="224" height="40"/><text><tspan x="1184" y="2068">ilObjSurveyAdministration</tspan><tspan x="1184" y="2083">GUI\ilObjSurveyAdministrationGUI</tspan></text></g>
<g id="c5_surveyqp" class="n"><rect x="1086.5" y="2118" width="195" height="40"/><text><tspan x="1184" y="2134">ilObjSurveyQuestionPoolGUI</tspan><tspan x="1184" y="2149">\ilObjSurveyQuestionPoolGUI</tspan></text></g>
<g id="c5_systemfolder" class="n"><rect x="1105.5" y="2183" width="157" height="40"/><text><tspan x="1184" y="2199">ilObjSystemFolderGUI</tspan><tspan x="1184" y="2214">\ilObjSystemFolderGUI</tspan></text></g>
<g id="c5_test" class="n"><rect x="1094.5" y="2249" width="179" height="26"/><text x="1184" y="2267">ilObjTestGUI\ilObjTestGUI</text></g>
<g id="c5_questionpool" class="n"><rect x="1106.5" y="2301" width="155" height="40"/><text><tspan x="1184" y="2317">ilObjQuestionPoolGUI</tspan><tspan x="1184" y="2332">\ilObjQuestionPoolGUI</tspan></text></g>
<g id="c5_wiki" class="n"><rect x="1094.5" y="2366" width="179" height="26"/><text x="1184" y="2384">ilObjWikiGUI\ilObjWikiGUI</text></g>
<g id="c5_rolefolder" class="n"><rect x="1114.5" y="2418" width="139" height="40"/><text><tspan x="1184" y="2434">ilObjRoleFolderGUI</tspan><tspan x="1184" y="2449">\ilObjRoleFolderGUI</tspan></text></g>
<g id="c5_role" class="n"><rect x="1098.5" y="2484" width="171" height="26"/><text x="1184" y="2502">ilObjRoleGUI\__construct</text></g>
<g id="c5_roletemplate" class="n"><rect x="1105.5" y="2535" width="157" height="40"/><text><tspan x="1184" y="2551">ilObjRoleTemplateGUI</tspan><tspan x="1184" y="2566">\ilObjRoleTemplateGUI</tspan></text></g>
<g id="c5_externaltools" class="n"><rect x="1069.5" y="2601" width="229" height="40"/><text><tspan x="1184" y="2617">ilObjExternalToolsSettings</tspan><tspan x="1184" y="2632">GUI\ilObjExternalToolsSettingsGUI</tspan></text></g>
<g id="c5_recoveryfolder" class="n"><rect x="1099.5" y="2666" width="169" height="40"/><text><tspan x="1184" y="2682">ilObjRecoveryFolderGUI</tspan><tspan x="1184" y="2697">\ilObjRecoveryFolderGUI</tspan></text></g>
<g id="c5_advancedediting" class="n"><rect x="1096.5" y="2731" width="175" height="40"/><text><tspan x="1184" y="2747">ilObjAdvancedEditingGUI</tspan><tspan x="1184" y="2762">\ilObjAdvancedEditingGUI</tspan></text></g>
<g id="c5_authsettings" class="n"><rect x="1108.5" y="2796" width="151" height="40"/><text><tspan x="1184" y="2812">ilObjAuthSettingsGUI</tspan><tspan x="1184" y="2827">\ilObjAuthSettingsGUI</tspan></text></g>
<g id="c5_container" class="n"><rect x="1085" y="2862" width="198" height="26"/><text x="1184" y="2880">ilContainerGUI\ilContainerGUI</text></g>
<g id="c5_languageext" class="n"><rect x="1108" y="2914" width="152" height="40"/><text><tspan x="1184" y="2930">ilObjLanguageExtGUI</tspan><tspan x="1184" y="2945">\ilObjLanguageExtGUI</tspan></text></g>
<g id="c5_languagefolder" class="n"><rect x="1099.5" y="2979" width="169" height="40"/><text><tspan x="1184" y="2995">ilObjLanguageFolderGUI</tspan><tspan x="1184" y="3010">\ilObjLanguageFolderGUI</tspan></text></g>
<g id="c5_language" class="n"><rect x="1065" y="3045" width="238" height="26"/><text x="1184" y="3063">ilObjLanguageGUI\ilObjLanguageGUI</text></g>
<g id="c5_notification" class="n"><rect x="1096.5" y="3096" width="175" height="40"/><text><tspan x="1184" y="3112">ilObjNotificationAdminGUI</tspan><tspan x="1184" y="3127">\__construct</tspan></text></g>
<g id="c5_objectfolder" class="n"><rect x="1108.5" y="3161" width="151" height="40"/><text><tspan x="1184" y="3177">ilObjObjectFolderGUI</tspan><tspan x="1184" y="3192">\ilObjObjectFolderGUI</tspan></text></g>
<g id="c5_createObject" class="n"><rect x="1109" y="3227" width="150" height="40"/><text><tspan x="1184" y="3243">ilObjExternalFeedGUI</tspan><tspan x="1184" y="3258">\createObject</tspan></text></g>
<g id="c5_editPgObject" class="n"><rect x="1108" y="4885" width="152" height="40"/><text><tspan x="1184" y="4901">ilObjStyleSettingsGUI</tspan><tspan x="1184" y="4916">\editPgObject</tspan></text></g>
<g id="c6_cancelPost" class="n"><rect x="1393" y="525" width="178" height="40"/><text><tspan x="1482" y="541">ilObjForumGUI\cancelPost</tspan><tspan x="1482" y="556">Object</tspan></text></g>
<g id="c6_setTreeState" class="n"><rect x="1388" y="590" width="188" height="40"/><text><tspan x="1482" y="606">ilObjForumGUI\setTreeState</tspan><tspan x="1482" y="621">AsynchObject</tspan></text></g>
<g id="c6_uploadObject" class="n"><rect x="1394" y="656" width="176" height="26"/><text x="1482" y="674">ilObjMailGUI\uploadObject</text></g>
<g id="c6_performImport" class="n"><rect x="1391.5" y="707" width="181" height="40"/><text><tspan x="1482" y="723">ilObjMailGUI\performImport</tspan><tspan x="1482" y="738">Object</tspan></text></g>
<g id="c6_getSubTabs" class="n"><rect x="1396" y="773" width="172" height="40"/><text><tspan x="1482" y="789">ilObjPaymentSettingsGUI</tspan><tspan x="1482" y="804">\getSubTabs</tspan></text></g>
<g id="c6_course" class="n"><rect x="1377" y="2774" width="210" height="26"/><text x="1482" y="2792">ilObjCourseGUI\ilObjCourseGUI</text></g>
<g id="c6_rootfolder" class="n"><rect x="1412" y="2825" width="140" height="40"/><text><tspan x="1482" y="2841">ilObjRootFolderGUI</tspan><tspan x="1482" y="2856">\ilObjRootFolderGUI</tspan></text></g>
<g id="c6_group" class="n"><rect x="1393" y="2891" width="178" height="26"/><text x="1482" y="2909">ilObjGroupGUI\__construct</text></g>
<g id="c6_category" class="n"><rect x="1366" y="2943" width="232" height="26"/><text x="1482" y="2961">ilObjCategoryGUI\ilObjCategoryGUI</text></g>
</svg>
